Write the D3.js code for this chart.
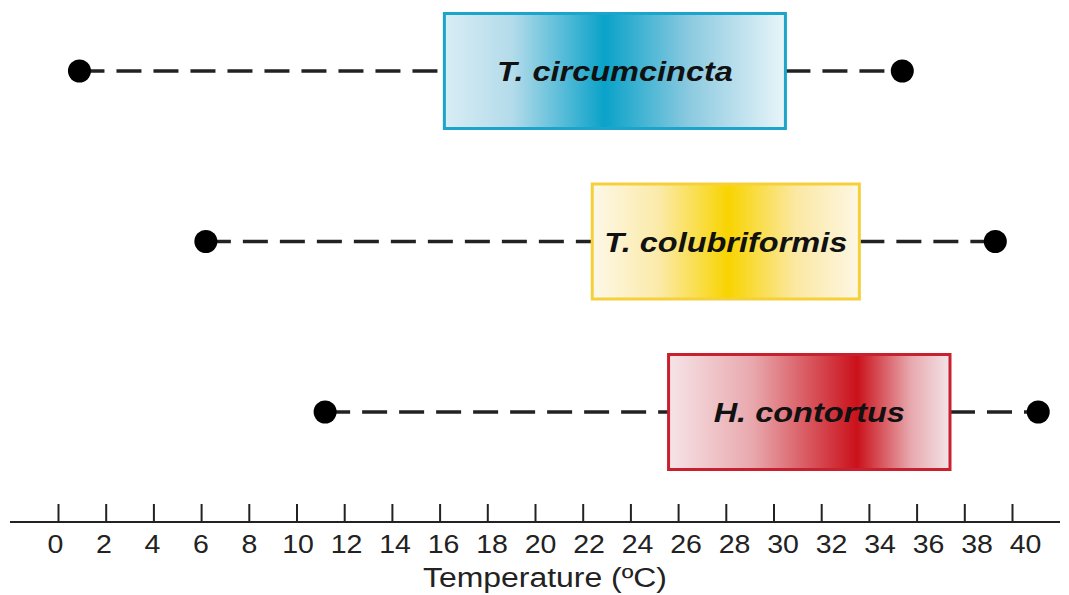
<!DOCTYPE html>
<html>
<head>
<meta charset="utf-8">
<script src="https://cdn.jsdelivr.net/npm/d3@7"></script>
<style>
  html, body { margin: 0; padding: 0; background: #fff; }
  svg { display: block; }
  text { font-family: "Liberation Sans", Arial, Helvetica, sans-serif; }
</style>
</head>
<body>
<svg id="chart" width="1069" height="595"></svg>
<script>
// ---- data ----
const species   = ["T. circumcincta", "T. colubriformis", "H. contortus"];
const minTemp   = [0.9, 6.2, 11.2];
const maxTemp   = [35.4, 39.3, 41.1];
const optLow    = [16.2, 22.4, 25.6];
const optHigh   = [30.5, 33.6, 37.4];
const tickValues = [0,2,4,6,8,10,12,14,16,18,20,22,24,26,28,30,32,34,36,38,40];
const axisTitle = "Temperature (ºC)";

// ---- styles ----
const gradients = [
  { id: "g0", border: "#1ba5cb", stops: [[0,"#d9edf5"],[0.2,"#b3dbea"],[0.47,"#0aa2c9"],[0.72,"#8ccae0"],[1,"#e9f5f9"]] },
  { id: "g1", border: "#f5d03a", stops: [[0,"#fdf8e8"],[0.25,"#fbeaa8"],[0.51,"#f8d400"],[0.76,"#fbe8a2"],[1,"#fdf7e4"]] },
  { id: "g2", border: "#c8202e", stops: [[0,"#f6e4e7"],[0.3,"#e8a8ad"],[0.67,"#cb111b"],[0.86,"#e7a8ad"],[1,"#f3e4e8"]] }
];
const stretch = 1.14;

const svg = d3.select("#chart");
const x = d3.scaleLinear().domain([0, 40]).range([58, 1012]);
const labelX = d3.scaleLinear().domain([0, 40]).range([55, 1025]);
const y = d3.scalePoint().domain(species).range([71, 412]);
const boxH = 115;

const defs = svg.append("defs");
gradients.forEach(g => {
  const lg = defs.append("linearGradient").attr("id", g.id)
    .attr("x1", "0%").attr("x2", "100%").attr("y1", "0%").attr("y2", "0%");
  g.stops.forEach(s => lg.append("stop").attr("offset", s[0]).attr("stop-color", s[1]));
});

const rows = species.map((s, i) => ({ s, i, min: minTemp[i], max: maxTemp[i], lo: optLow[i], hi: optHigh[i] }));

const g = svg.append("g");
// dashed whiskers
g.selectAll("line.left").data(rows).join("line")
  .attr("x1", d => x(d.min)).attr("x2", d => x(d.lo))
  .attr("y1", d => y(d.s)).attr("y2", d => y(d.s))
  .attr("stroke", "#222").attr("stroke-width", 3.5).attr("stroke-dasharray", "25,12");
g.selectAll("line.right").data(rows).join("line")
  .attr("x1", d => x(d.hi)).attr("x2", d => x(d.max))
  .attr("y1", d => y(d.s)).attr("y2", d => y(d.s))
  .attr("stroke", "#222").attr("stroke-width", 3.5).attr("stroke-dasharray", "25,12");

// boxes
g.selectAll("rect.box").data(rows).join("rect")
  .attr("x", d => x(d.lo)).attr("width", d => x(d.hi) - x(d.lo))
  .attr("y", d => y(d.s) - boxH / 2).attr("height", boxH)
  .attr("fill", d => `url(#${gradients[d.i].id})`)
  .attr("stroke", d => gradients[d.i].border).attr("stroke-width", 3);

// dots
g.selectAll("circle.min").data(rows).join("circle")
  .attr("cx", d => x(d.min)).attr("cy", d => y(d.s)).attr("r", 11.5).attr("fill", "#000");
g.selectAll("circle.max").data(rows).join("circle")
  .attr("cx", d => x(d.max)).attr("cy", d => y(d.s)).attr("r", 11.5).attr("fill", "#000");

// labels
g.selectAll("text.lab").data(rows).join("text")
  .attr("transform", d => `translate(${(x(d.lo) + x(d.hi)) / 2},${y(d.s) + 10}) scale(${stretch},1)`)
  .attr("text-anchor", "middle")
  .attr("font-size", 28.5).attr("font-weight", "bold").attr("font-style", "italic")
  .attr("fill", "#111")
  .text(d => d.s);

// axis
const axisY = 522;
svg.append("line").attr("x1", 10).attr("x2", 1060).attr("y1", axisY).attr("y2", axisY)
  .attr("stroke", "#222").attr("stroke-width", 2);
const ax = svg.append("g").attr("transform", `translate(0,${axisY})`)
  .call(d3.axisBottom(x).tickValues(tickValues).tickSizeInner(-18).tickSizeOuter(0).tickPadding(13));
ax.select(".domain").remove();
ax.selectAll(".tick line").attr("stroke", "#222").attr("stroke-width", 2);
ax.selectAll(".tick text")
  .attr("font-size", 25).attr("fill", "#222").attr("font-family", "Liberation Sans, Arial, sans-serif")
  .attr("transform", d => `translate(${labelX(d) - x(d)},0) scale(${stretch},1)`);

svg.append("text")
  .attr("transform", `translate(545,587) scale(${stretch},1)`)
  .attr("text-anchor", "middle").attr("font-size", 28).attr("fill", "#222")
  .text(axisTitle);
</script>
</body>
</html>
